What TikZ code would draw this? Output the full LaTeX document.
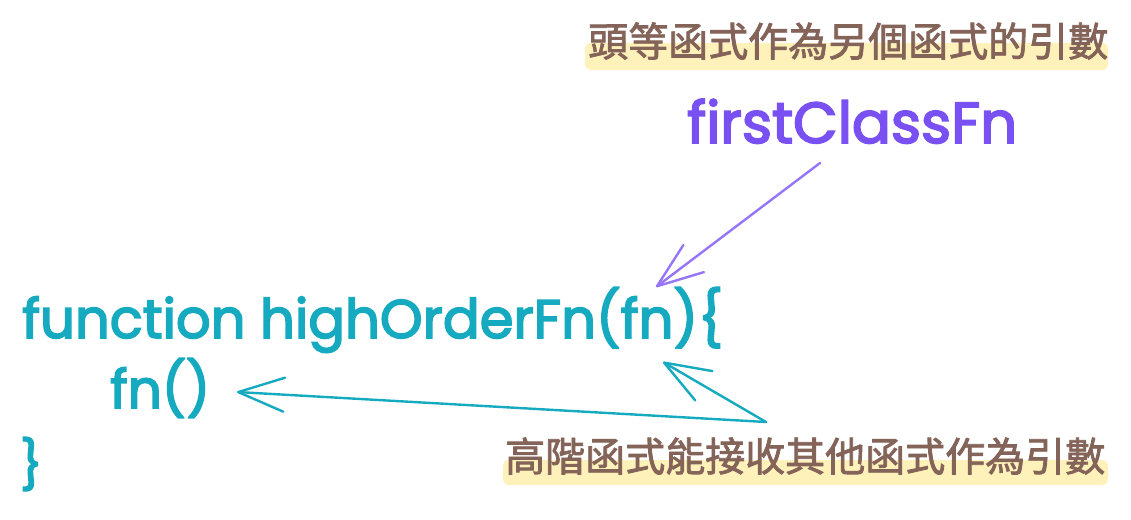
\documentclass[tikz,border=0pt]{standalone}
\usepackage{fontspec}
\usepackage{graphicx}
\setmainfont{Poppins}[FakeBold=3]
\newfontfamily\cjkfont{Noto Sans CJK TC}[FakeBold=2]
\usetikzlibrary{arrows.meta}
\definecolor{codeteal}{HTML}{15AABF}
\definecolor{violettext}{HTML}{7950F2}
\definecolor{violetarrow}{HTML}{9775FA}
\definecolor{notebrown}{HTML}{846358}
\definecolor{marker}{HTML}{FFF1BA}
\tikzset{
  codetext/.style={anchor=base west, inner sep=0pt, text=codeteal, font=\fontsize{48}{48}\selectfont},
  notetext/.style={anchor=west, inner sep=0pt, text=notebrown, font=\cjkfont\fontsize{40}{40}\selectfont},
  hlband/.style={fill=marker, rounded corners=6pt},
  sketcharrow/.style={line width=2.4pt, line cap=round, -{Straight Barb[length=46pt,width=34pt,round]}},
}
\begin{document}
\begin{tikzpicture}[x=1pt,y=-1pt]
\fill[white] (0,0) rectangle (1131,519);
\useasboundingbox (0,0) rectangle (1131,519);
% highlight bands
\fill[hlband] (585,43) rectangle (1108,70);
\fill[hlband] (503,460) rectangle (1108,485);
% notes
\node[notetext] (topnote) at (588,41) {頭等函式作為另個函式的引數};
\node[notetext] (botnote) at (505,456) {高階函式能接收其他函式作為引數};
% code
\node[codetext] (codeline) at (22,338) {\resizebox{701pt}{!}{function highOrderFn(fn)\{}};
\node[codetext] (callline) at (110,408) {\resizebox{100pt}{!}{fn()}};
\node[codetext] (closeline) at (20,482) {\}};
\node[codetext, text=violettext] (fcf) at (687,143) {\resizebox{330pt}{!}{firstClassFn}};
% connector ends
\coordinate (pstart) at (820,163);
\coordinate (ptip) at (656,287);
\coordinate (tstart) at (766,422);
\coordinate (ttipa) at (663,362);
\coordinate (ttipb) at (237,392);
\draw[sketcharrow, violetarrow] (pstart) -- (ptip);
\draw[sketcharrow, codeteal] (tstart) -- (ttipa);
\draw[sketcharrow, codeteal] (tstart) -- (ttipb);
\end{tikzpicture}
\end{document}
